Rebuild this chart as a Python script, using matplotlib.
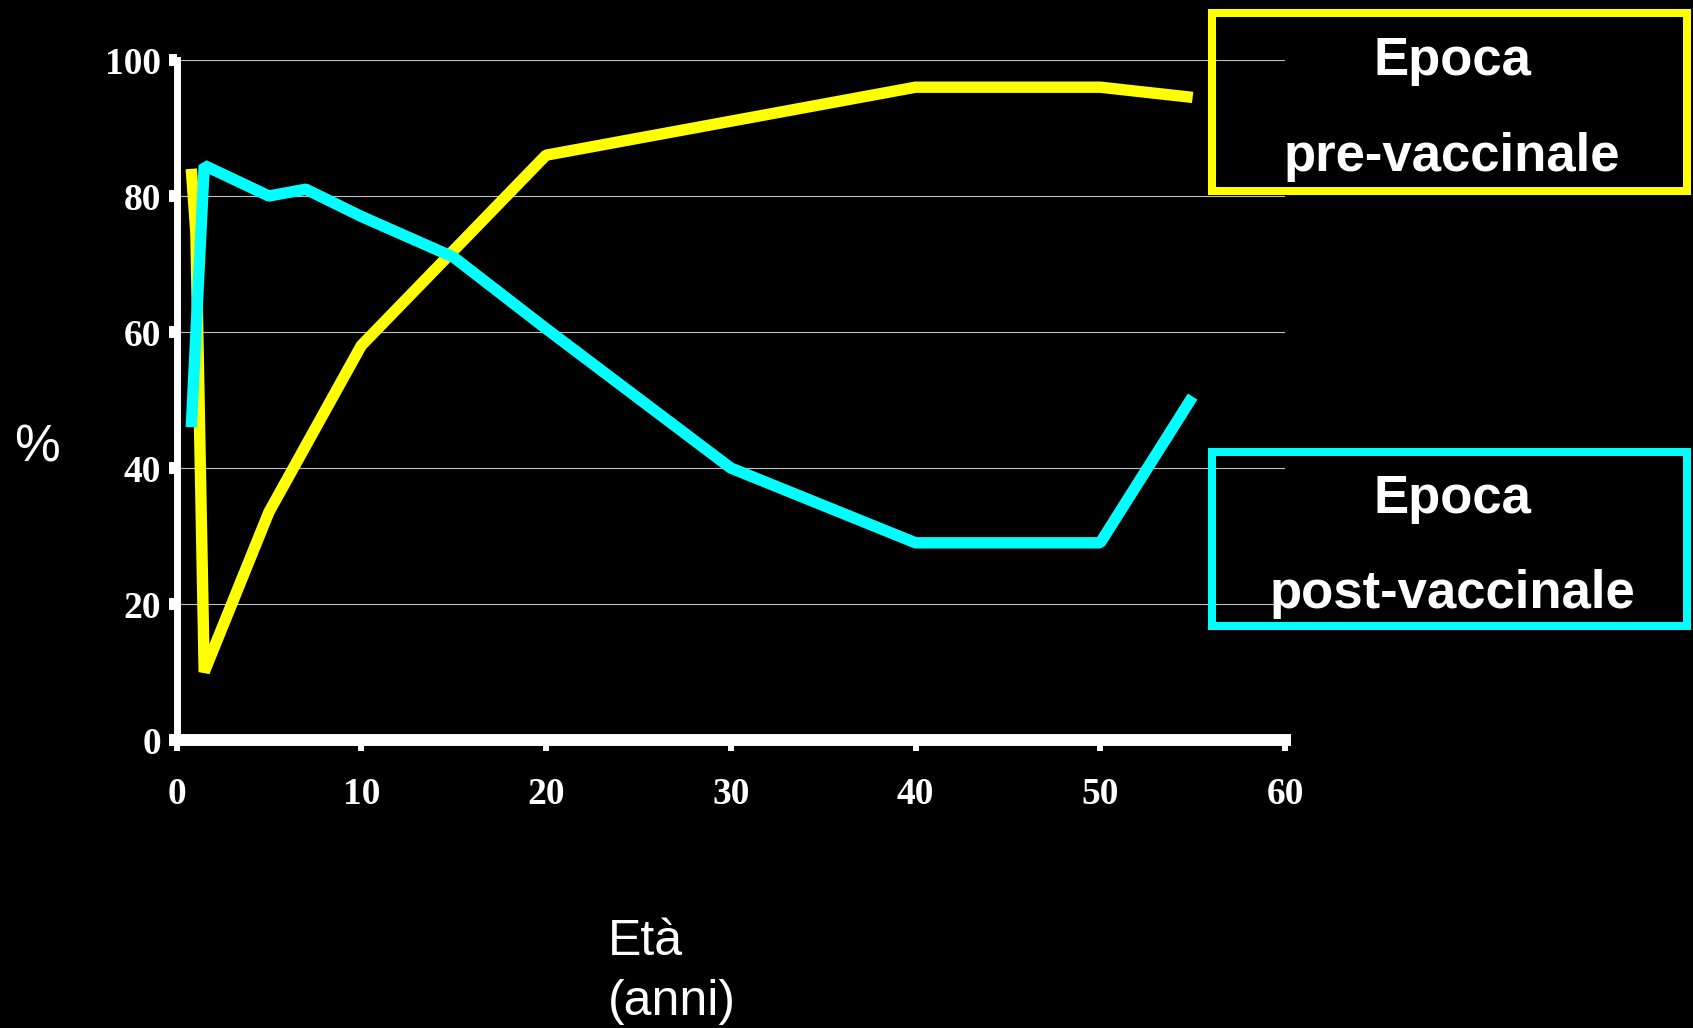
import matplotlib.pyplot as plt
from matplotlib.patches import Rectangle

# age (years) vs. percentage, pre- and post-vaccination era
pre_age = [0.8, 1.05, 1.5, 5, 10, 20, 40, 50, 55]
pre_pct = [84, 74.5, 10, 33.5, 58, 86, 96, 96, 94.5]

post_age = [0.8, 1.5, 5, 7, 10, 15, 20, 30, 40, 50, 55]
post_pct = [46, 84.5, 80, 81, 77, 71, 60.5, 40, 29, 29, 50.5]

x_ticks = [0, 10, 20, 30, 40, 50, 60]
y_ticks = [0, 20, 40, 60, 80, 100]

W, H = 1693, 1028
fig = plt.figure(figsize=(W / 100, H / 100), dpi=100, facecolor='black')
ax = fig.add_axes([176.5 / W, 1 - 740 / H, (1285 - 176.5) / W, (740 - 60) / H])
ax.set_facecolor('black')

line_kw = dict(lw=8.2, solid_capstyle='butt', solid_joinstyle='bevel', zorder=3)
ax.plot(pre_age, pre_pct, color='#ffff00', **line_kw)
ax.plot(post_age, post_pct, color='#00ffff', **line_kw)

ax.set_xlim(0, 60)
ax.set_ylim(0, 100)
ax.set_xticks(x_ticks)
ax.set_yticks(y_ticks)
ax.yaxis.grid(True, color='#c0c0c0', lw=0.8)
ax.set_axisbelow(True)

for side in ['top', 'right']:
    ax.spines[side].set_visible(False)
ax.spines['left'].set_color('white')
ax.spines['left'].set_linewidth(5)
ax.spines['bottom'].set_color('white')
ax.spines['bottom'].set_linewidth(8.6)

tick_font = dict(family='Liberation Serif', weight='bold', size=27)
ax.tick_params(axis='y', colors='white', direction='out', length=6, width=8.6, pad=5)
ax.tick_params(axis='x', colors='white', direction='out', length=8, width=4.3, pad=19)
for lab in ax.get_xticklabels() + ax.get_yticklabels():
    lab.set_fontfamily(tick_font['family'])
    lab.set_fontweight(tick_font['weight'])
    lab.set_fontsize(tick_font['size'])

sans = 'Liberation Sans'
fig.text(37 / W, 1 - 448 / H, '%', color='white', fontsize=37, family=sans,
         ha='center', va='center')
fig.text(608 / W, 1 - 1015 / H, 'Età\n(anni)', color='white', fontsize=36,
         family=sans, ha='left', va='baseline', linespacing=1.38)

# legend boxes at the right
boxes = [
    (13, 191, '#ffff00', 'Epoca', 'pre-vaccinale', 75, 171),
    (452, 626, '#00ffff', 'Epoca', 'post-vaccinale', 513, 608),
]
for top, bottom, col, line1, line2, b1, b2 in boxes:
    fig.patches.append(Rectangle((1212 / W, 1 - bottom / H), (1687 - 1212) / W,
                                 (bottom - top) / H, transform=fig.transFigure,
                                 fill=False, edgecolor=col, lw=5.8, zorder=5))
    for txt, base in [(line1, b1), (line2, b2)]:
        fig.text(1452 / W, 1 - base / H, txt, color='white', fontsize=38,
                 family=sans, weight='bold', ha='center', va='baseline', zorder=6)

fig.savefig('out.png', dpi=100, facecolor='black')
